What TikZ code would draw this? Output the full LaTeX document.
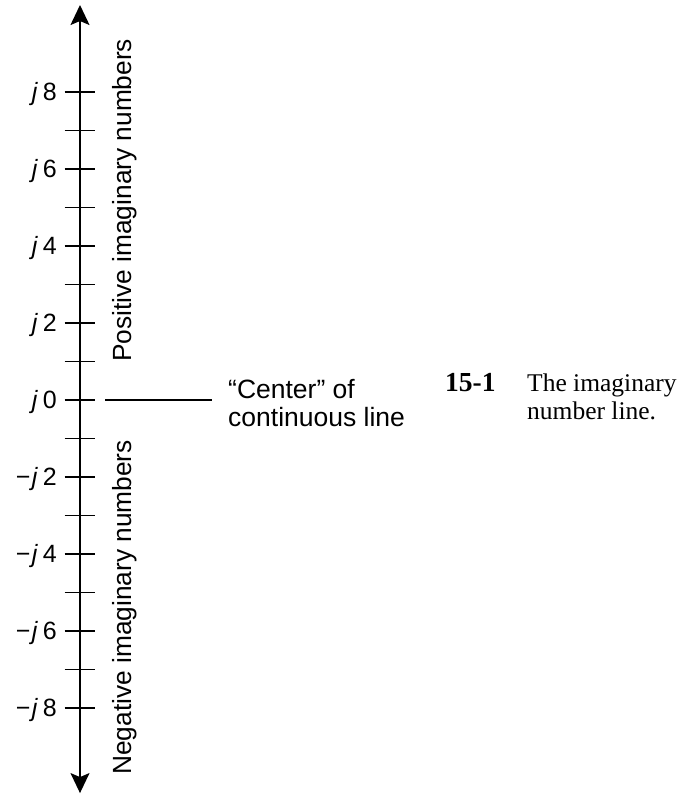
\documentclass[tikz,border=0pt]{standalone}
\usepackage{fontspec}
\setmainfont{Liberation Sans}
\newfontfamily\capfont{Liberation Serif}
\usetikzlibrary{arrows.meta}

\begin{document}
\begin{tikzpicture}[
  x=38.5pt, y=38.5pt,
  axisline/.style={line width=1.6pt, {Stealth[length=20pt, width=19pt, inset=4pt]}-{Stealth[length=20pt, width=19pt, inset=4pt]}},
  tick/.style={line width=1.4pt},
  ticklabel/.style={anchor=base east, inner sep=0pt, font=\fontsize{25}{26}\selectfont},
  sidetext/.style={anchor=base west, inner sep=0pt, rotate=90, font=\fontsize{26.3}{28}\selectfont},
  note/.style={anchor=base west, inner sep=0pt, align=left, font=\fontsize{26.5}{28}\selectfont},
  caption/.style={anchor=base west, inner sep=0pt, align=left, font=\capfont\fontsize{25.5}{28}\selectfont}
]
\useasboundingbox (-2.078,-10.234) rectangle (15.532,10.390);

% axis
\coordinate (bot) at (0,-10.21);
\coordinate (top) at (0,10.26);
\draw[axisline] (bot) -- (top);

% ticks and labels
\foreach \i in {-8,...,8} \draw[tick] (-0.40,\i) -- (0.40,\i);
\foreach \i in {0,2,4,6,8} \node[ticklabel] (p\i) at (-0.597,\i-0.225) {\textit{j}\hspace{0.2em}\i};
\foreach \i in {2,4,6,8} \node[ticklabel] (m\i) at (-0.597,-\i-0.225) {−\hspace{0.05em}\textit{j}\hspace{0.2em}\i};

% side texts
\node[sidetext] (pos) at (1.325,0.987) {Positive imaginary numbers};
\node[sidetext] (neg) at (1.325,-9.74) {Negative imaginary numbers};

% center marker
\node[note] (ctr) at (3.844,-0.701) {“Center” of\\continuous line};
\coordinate (c0) at (0.65,0);
\coordinate (c1) at (3.43,0);
\draw[tick] (c0) -- (c1);

% caption
\node[caption, font=\capfont\bfseries\fontsize{27.5}{28}\selectfont] (fignum) at (9.48,0.208) {15-1};
\node[caption] (figtext) at (11.61,-0.519) {The imaginary\\number line.};
\end{tikzpicture}
\end{document}
